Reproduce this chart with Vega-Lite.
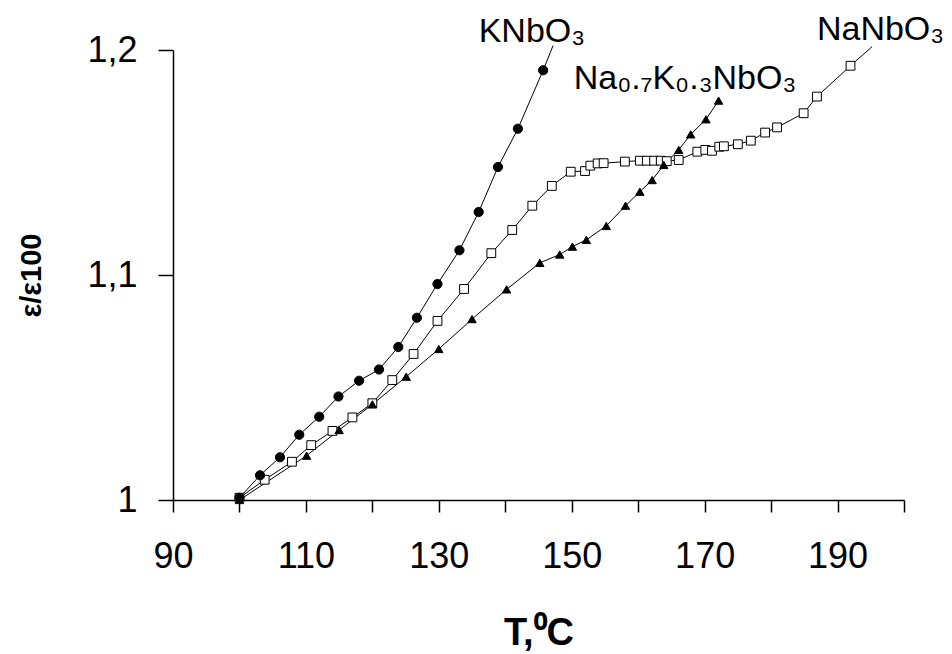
{
  "$schema": "https://vega.github.io/schema/vega-lite/v6.json",
  "width": 731,
  "height": 450,
  "autosize": "none",
  "padding": {"left": 173, "top": 50, "right": 48, "bottom": 154},
  "background": "white",
  "config": {
    "view": {"stroke": null},
    "font": "Liberation Sans",
    "axis": {"grid": false, "domainColor": "black", "tickColor": "black", "labelColor": "black", "titleColor": "black", "domainWidth": 1.5, "tickWidth": 1.5, "labelFont": "Liberation Sans", "titleFont": "Liberation Sans"}
  },
  "datasets": {
    "curves": [
      {"series": "NaNbO3", "T": 100, "eps": 1.001, "marker": true},
      {"series": "NaNbO3", "T": 103.8, "eps": 1.009, "marker": true},
      {"series": "NaNbO3", "T": 107.9, "eps": 1.017, "marker": true},
      {"series": "NaNbO3", "T": 110.8, "eps": 1.0244, "marker": true},
      {"series": "NaNbO3", "T": 114.0, "eps": 1.0307, "marker": true},
      {"series": "NaNbO3", "T": 117.0, "eps": 1.0367, "marker": true},
      {"series": "NaNbO3", "T": 120.0, "eps": 1.043, "marker": true},
      {"series": "NaNbO3", "T": 123.0, "eps": 1.0533, "marker": true},
      {"series": "NaNbO3", "T": 126.2, "eps": 1.0649, "marker": true},
      {"series": "NaNbO3", "T": 129.8, "eps": 1.0796, "marker": true},
      {"series": "NaNbO3", "T": 133.8, "eps": 1.0938, "marker": true},
      {"series": "NaNbO3", "T": 137.9, "eps": 1.1097, "marker": true},
      {"series": "NaNbO3", "T": 141.05, "eps": 1.12, "marker": true},
      {"series": "NaNbO3", "T": 144.07, "eps": 1.1308, "marker": true},
      {"series": "NaNbO3", "T": 147.0, "eps": 1.1396, "marker": true},
      {"series": "NaNbO3", "T": 149.85, "eps": 1.1459, "marker": true},
      {"series": "NaNbO3", "T": 152.0, "eps": 1.1462, "marker": true},
      {"series": "NaNbO3", "T": 152.8, "eps": 1.1486, "marker": true},
      {"series": "NaNbO3", "T": 153.9, "eps": 1.1496, "marker": true},
      {"series": "NaNbO3", "T": 154.8, "eps": 1.1497, "marker": true},
      {"series": "NaNbO3", "T": 158.0, "eps": 1.1504, "marker": true},
      {"series": "NaNbO3", "T": 160.25, "eps": 1.1508, "marker": true},
      {"series": "NaNbO3", "T": 161.3, "eps": 1.1508, "marker": true},
      {"series": "NaNbO3", "T": 162.4, "eps": 1.1508, "marker": true},
      {"series": "NaNbO3", "T": 163.4, "eps": 1.1508, "marker": true},
      {"series": "NaNbO3", "T": 164.3, "eps": 1.1506, "marker": true},
      {"series": "NaNbO3", "T": 166.1, "eps": 1.1511, "marker": true},
      {"series": "NaNbO3", "T": 168.9, "eps": 1.1548, "marker": true},
      {"series": "NaNbO3", "T": 170.1, "eps": 1.1556, "marker": true},
      {"series": "NaNbO3", "T": 171.1, "eps": 1.1552, "marker": true},
      {"series": "NaNbO3", "T": 172.2, "eps": 1.157, "marker": true},
      {"series": "NaNbO3", "T": 172.9, "eps": 1.1572, "marker": true},
      {"series": "NaNbO3", "T": 175.0, "eps": 1.1581, "marker": true},
      {"series": "NaNbO3", "T": 176.95, "eps": 1.1597, "marker": true},
      {"series": "NaNbO3", "T": 179.1, "eps": 1.1633, "marker": true},
      {"series": "NaNbO3", "T": 180.9, "eps": 1.1656, "marker": true},
      {"series": "NaNbO3", "T": 184.9, "eps": 1.1719, "marker": true},
      {"series": "NaNbO3", "T": 186.9, "eps": 1.1793, "marker": true},
      {"series": "NaNbO3", "T": 191.95, "eps": 1.193, "marker": true},
      {"series": "NaNbO3", "T": 195.2, "eps": 1.2015, "marker": false},
      {"series": "Na0.7K0.3NbO3", "T": 100, "eps": 1.0, "marker": true},
      {"series": "Na0.7K0.3NbO3", "T": 110.1, "eps": 1.0197, "marker": true},
      {"series": "Na0.7K0.3NbO3", "T": 115.0, "eps": 1.0311, "marker": true},
      {"series": "Na0.7K0.3NbO3", "T": 120.0, "eps": 1.0425, "marker": true},
      {"series": "Na0.7K0.3NbO3", "T": 125.1, "eps": 1.0548, "marker": true},
      {"series": "Na0.7K0.3NbO3", "T": 130.0, "eps": 1.0671, "marker": true},
      {"series": "Na0.7K0.3NbO3", "T": 135.0, "eps": 1.0804, "marker": true},
      {"series": "Na0.7K0.3NbO3", "T": 140.2, "eps": 1.0936, "marker": true},
      {"series": "Na0.7K0.3NbO3", "T": 145.2, "eps": 1.1054, "marker": true},
      {"series": "Na0.7K0.3NbO3", "T": 148.2, "eps": 1.1091, "marker": true},
      {"series": "Na0.7K0.3NbO3", "T": 150.1, "eps": 1.1126, "marker": true},
      {"series": "Na0.7K0.3NbO3", "T": 152.2, "eps": 1.1156, "marker": true},
      {"series": "Na0.7K0.3NbO3", "T": 155.2, "eps": 1.1218, "marker": true},
      {"series": "Na0.7K0.3NbO3", "T": 158.1, "eps": 1.1308, "marker": true},
      {"series": "Na0.7K0.3NbO3", "T": 160.25, "eps": 1.137, "marker": true},
      {"series": "Na0.7K0.3NbO3", "T": 162.1, "eps": 1.1422, "marker": true},
      {"series": "Na0.7K0.3NbO3", "T": 163.85, "eps": 1.1489, "marker": true},
      {"series": "Na0.7K0.3NbO3", "T": 166.1, "eps": 1.1556, "marker": true},
      {"series": "Na0.7K0.3NbO3", "T": 167.9, "eps": 1.1625, "marker": true},
      {"series": "Na0.7K0.3NbO3", "T": 170.2, "eps": 1.1692, "marker": true},
      {"series": "Na0.7K0.3NbO3", "T": 172.1, "eps": 1.1775, "marker": true},
      {"series": "KNbO3", "T": 100, "eps": 1.001, "marker": true},
      {"series": "KNbO3", "T": 103.1, "eps": 1.011, "marker": true},
      {"series": "KNbO3", "T": 106.1, "eps": 1.019, "marker": true},
      {"series": "KNbO3", "T": 109.0, "eps": 1.029, "marker": true},
      {"series": "KNbO3", "T": 112.0, "eps": 1.037, "marker": true},
      {"series": "KNbO3", "T": 114.9, "eps": 1.046, "marker": true},
      {"series": "KNbO3", "T": 118.0, "eps": 1.053, "marker": true},
      {"series": "KNbO3", "T": 121.0, "eps": 1.058, "marker": true},
      {"series": "KNbO3", "T": 123.9, "eps": 1.068, "marker": true},
      {"series": "KNbO3", "T": 126.7, "eps": 1.081, "marker": true},
      {"series": "KNbO3", "T": 129.8, "eps": 1.096, "marker": true},
      {"series": "KNbO3", "T": 133.1, "eps": 1.111, "marker": true},
      {"series": "KNbO3", "T": 136.0, "eps": 1.128, "marker": true},
      {"series": "KNbO3", "T": 138.9, "eps": 1.148, "marker": true},
      {"series": "KNbO3", "T": 141.9, "eps": 1.165, "marker": true},
      {"series": "KNbO3", "T": 145.7, "eps": 1.191, "marker": true},
      {"series": "KNbO3", "T": 147.2, "eps": 1.202, "marker": false}
    ],
    "labels": [
      {"text": "KNbO₃", "T": 136.0, "eps": 1.2036},
      {"text": "Na₀.₇K₀.₃NbO₃", "T": 150.3, "eps": 1.1825},
      {"text": "NaNbO₃", "T": 186.9, "eps": 1.2044}
    ]
  },
  "layer": [
    {
      "data": {"name": "curves"},
      "mark": {"type": "line", "color": "black", "strokeWidth": 1, "clip": false},
      "encoding": {
        "x": {"field": "T", "type": "quantitative", "scale": {"domain": [90, 200], "nice": false, "zero": false},
          "axis": {"values": [90, 100, 110, 120, 130, 140, 150, 160, 170, 180, 190, 200], "labelExpr": "(datum.value - 90) % 20 == 0 ? datum.label : ''", "tickSize": 12, "labelPadding": 27, "labelFontSize": 36, "labelFlush": false, "labelOverlap": false, "title": "T,⁰C", "titleFontSize": 38, "titleFontWeight": "bold", "titlePadding": 40}},
        "y": {"field": "eps", "type": "quantitative", "scale": {"domain": [1, 1.2], "nice": false, "zero": false},
          "axis": {"values": [1, 1.1, 1.2], "labelExpr": "replace(format(datum.value, '~g'), '.', ',')", "tickSize": 15, "labelPadding": 21, "labelFontSize": 36, "labelFlush": false, "title": "ε/ε100", "titleFontSize": 29, "titleFontWeight": "bold", "titlePadding": 40}},
        "detail": {"field": "series"},
        "order": {"field": "T", "type": "quantitative"}
      }
    },
    {
      "data": {"name": "curves"},
      "transform": [{"filter": "datum.marker"}],
      "mark": {"type": "point", "stroke": "black", "strokeWidth": 1, "opacity": 1, "filled": true},
      "encoding": {
        "x": {"field": "T", "type": "quantitative"},
        "y": {"field": "eps", "type": "quantitative"},
        "shape": {"field": "series", "type": "nominal", "legend": null, "scale": {"domain": ["KNbO3", "NaNbO3", "Na0.7K0.3NbO3"], "range": ["circle", "square", "triangle-up"]}},
        "fill": {"field": "series", "type": "nominal", "legend": null, "scale": {"domain": ["KNbO3", "NaNbO3", "Na0.7K0.3NbO3"], "range": ["black", "white", "black"]}},
        "size": {"field": "series", "type": "nominal", "legend": null, "scale": {"domain": ["KNbO3", "NaNbO3", "Na0.7K0.3NbO3"], "range": [85, 70, 105]}}
      }
    },
    {
      "data": {"name": "labels"},
      "mark": {"type": "text", "align": "left", "baseline": "alphabetic", "fontSize": 34, "font": "Liberation Sans", "color": "black", "clip": false},
      "encoding": {
        "x": {"field": "T", "type": "quantitative"},
        "y": {"field": "eps", "type": "quantitative"},
        "text": {"field": "text"}
      }
    }
  ]
}
